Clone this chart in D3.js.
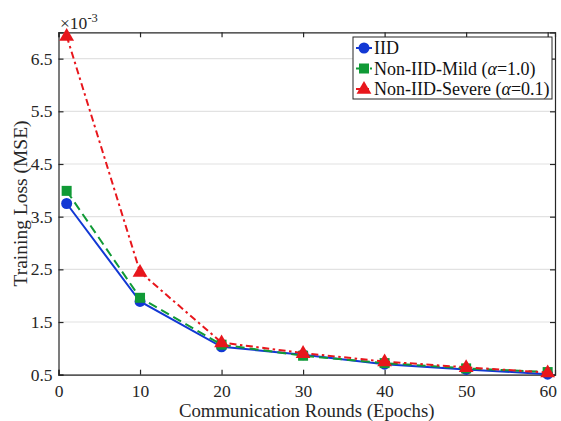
<!DOCTYPE html>
<html>
<head>
<meta charset="utf-8">
<script src="https://cdn.jsdelivr.net/npm/d3@7"></script>
<style>
  body { margin: 0; background: #fff; }
  svg { font-family: "Liberation Serif", "DejaVu Serif", serif; }
</style>
</head>
<body>
<svg id="chart" width="561" height="421"></svg>
<script>
// data (loss values in units of 1e-3)
var epochs = [1, 10, 20, 30, 40, 50, 60];
var iidLoss = [3.75, 1.89, 1.03, 0.88, 0.70, 0.60, 0.51];
var mildLoss = [3.99, 1.96, 1.07, 0.86, 0.72, 0.62, 0.55];
var severeLoss = [6.93, 2.45, 1.11, 0.91, 0.75, 0.64, 0.54];
var xTicks = [0, 10, 20, 30, 40, 50, 60];
var yTicks = [0.5, 1.5, 2.5, 3.5, 4.5, 5.5, 6.5];
var seriesNames = ['IID', 'Non-IID-Mild (α=1.0)', 'Non-IID-Severe (α=0.1)'];

var margin = {left: 58.5, right: 6, top: 32.3, bottom: 46.3};
var width = 561, height = 421;

var svg = d3.select('#chart');

var xScale = d3.scaleLinear().domain([0, 60.9]).range([margin.left, width - margin.right]);
var yScale = d3.scaleLinear().domain([0.5, 7.0]).range([height - margin.bottom, margin.top]);

var series = [
  {name: seriesNames[0], values: iidLoss, color: '#1238d4', dash: null, marker: 'circle'},
  {name: seriesNames[1], values: mildLoss, color: '#109a36', dash: '9,5', marker: 'square'},
  {name: seriesNames[2], values: severeLoss, color: '#e8161c', dash: '7,3.5,2.5,3.5', marker: 'triangle'}
];

// grid lines
svg.append('g').selectAll('line')
  .data(yTicks)
  .enter()
  .append('line')
  .attr('x1', xScale(0))
  .attr('x2', xScale(60.9))
  .attr('y1', function (d) { return yScale(d); })
  .attr('y2', function (d) { return yScale(d); })
  .attr('stroke', '#e2e2e2')
  .attr('stroke-width', 1.2);

// axes (ticks inside)
var xAxisBottom = svg.append('g')
  .attr('transform', 'translate(0,' + (height - margin.bottom) + ')')
  .call(d3.axisBottom(xScale).tickValues(xTicks).tickSize(-5).tickPadding(10).tickFormat(d3.format('d')));
var xAxisTop = svg.append('g')
  .attr('transform', 'translate(0,' + margin.top + ')')
  .call(d3.axisTop(xScale).tickValues(xTicks).tickSize(-5).tickFormat(''));
var yAxisLeft = svg.append('g')
  .attr('transform', 'translate(' + margin.left + ',0)')
  .call(d3.axisLeft(yScale).tickValues(yTicks).tickSize(-5).tickPadding(6).tickFormat(d3.format('.1f')));
var yAxisRight = svg.append('g')
  .attr('transform', 'translate(' + (width - margin.right) + ',0)')
  .call(d3.axisRight(yScale).tickValues(yTicks).tickSize(-5).tickFormat(''));

[xAxisBottom, xAxisTop, yAxisLeft, yAxisRight].forEach(function (ax) {
  ax.attr('font-family', '"Liberation Serif", serif').attr('font-size', 17.5);
  ax.select('.domain').attr('stroke', '#262626').attr('stroke-width', 1.2);
  ax.selectAll('.tick line').attr('stroke', '#262626').attr('stroke-width', 1.2);
  ax.selectAll('.tick text')
    .attr('fill', '#262626')
    .style('font-family', '"Liberation Serif", serif')
    .style('font-size', '17.5px');
});

// lines
var lineGenerator = d3.line()
  .x(function (d, i) { return xScale(epochs[i]); })
  .y(function (d) { return yScale(d); });

function drawMarker(g, type, x, y, color) {
  if (type === 'circle') {
    g.append('circle').attr('cx', x).attr('cy', y).attr('r', 5.5).attr('fill', color);
  } else if (type === 'square') {
    g.append('rect').attr('x', x - 5).attr('y', y - 5).attr('width', 10).attr('height', 10).attr('fill', color);
  } else {
    g.append('path')
      .attr('d', d3.symbol().type(d3.symbolTriangle).size(95)())
      .attr('transform', 'translate(' + x + ',' + (y + 0.5) + ')')
      .attr('fill', color);
  }
}

series.forEach(function (s) {
  var g = svg.append('g');
  g.append('path')
    .attr('d', lineGenerator(s.values))
    .attr('fill', 'none')
    .attr('stroke', s.color)
    .attr('stroke-width', 2)
    .attr('stroke-dasharray', s.dash);
  s.values.forEach(function (v, i) {
    drawMarker(g, s.marker, xScale(epochs[i]), yScale(v), s.color);
  });
});

// axis labels
svg.append('text')
  .attr('x', (margin.left + width - margin.right) / 2)
  .attr('y', 417)
  .attr('text-anchor', 'middle')
  .attr('fill', '#262626')
  .style('font-size', '18.8px')
  .text('Communication Rounds (Epochs)');

svg.append('text')
  .attr('transform', 'translate(27,' + ((margin.top + height - margin.bottom) / 2) + ') rotate(-90)')
  .attr('text-anchor', 'middle')
  .attr('fill', '#262626')
  .style('font-size', '19.5px')
  .text('Training Loss (MSE)');

// exponent label
var expo = svg.append('text')
  .attr('x', 60)
  .attr('y', 28.5)
  .attr('fill', '#262626')
  .style('font-size', '17.5px');
expo.append('tspan').text('×10');
expo.append('tspan').attr('dy', -7).style('font-size', '12.5px').text('-3');

// legend
var legend = svg.append('g').attr('transform', 'translate(353,37)');
legend.append('rect')
  .attr('width', 199)
  .attr('height', 62)
  .attr('fill', '#fff')
  .attr('stroke', '#262626')
  .attr('stroke-width', 1);

series.forEach(function (s, i) {
  var yy = 11 + i * 20.5;
  legend.append('line')
    .attr('x1', 3).attr('x2', 19)
    .attr('y1', yy).attr('y2', yy)
    .attr('stroke', s.color)
    .attr('stroke-width', 2)
    .attr('stroke-dasharray', s.dash);
  drawMarker(legend, s.marker, 11, yy, s.color);
  var t = legend.append('text')
    .attr('x', 21)
    .attr('y', yy + 6)
    .attr('fill', '#111')
    .style('font-size', '18px');
  var m = s.name.match(/^(.*\()α(=.*)$/);
  if (m) {
    t.append('tspan').text(m[1]);
    t.append('tspan').style('font-style', 'italic').text('α');
    t.append('tspan').text(m[2]);
  } else {
    t.text(s.name);
  }
});
</script>
</body>
</html>
